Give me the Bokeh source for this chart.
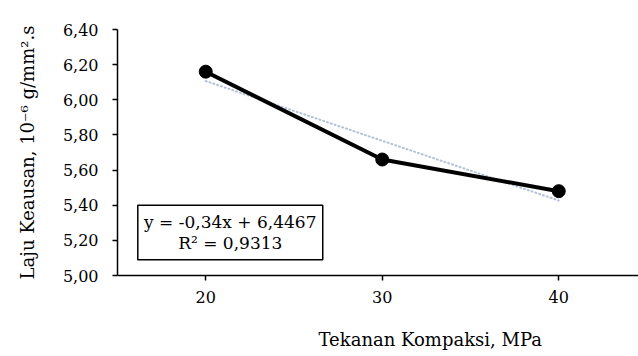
from bokeh.plotting import figure
from bokeh.models import FixedTicker, Label, BoxAnnotation, Range1d, Title
from bokeh.embed import file_html
from bokeh.resources import INLINE

# Compaction pressure categories and measured wear rate
pressure_labels = ["20", "30", "40"]
category_pos = [1, 2, 3]
wear_rate = [6.16, 5.66, 5.48]

# Linear trend fitted over the category index
trend_slope = -0.34
trend_intercept = 6.4467
trend_r2 = 0.9313

y_ticks = [5.0, 5.2, 5.4, 5.6, 5.8, 6.0, 6.2, 6.4]
y_tick_labels = ["5,00", "5,20", "5,40", "5,60", "5,80", "6,00", "6,20", "6,40"]

FONT = "DejaVu Serif"

p = figure(width=638, height=356, output_backend="svg", toolbar_location=None,
           x_range=Range1d(0.5, 3.452), y_range=Range1d(5.0, 6.4),
           min_border_left=117, min_border_right=0, min_border_top=29,
           min_border_bottom=81)
p.outline_line_color = None
p.grid.visible = False
p.background_fill_color = "white"
p.border_fill_color = "white"

trend_y = [trend_slope * x + trend_intercept for x in category_pos]
p.line(category_pos, trend_y, line_color="#b4bfd8", line_width=2,
       line_dash="1 3", line_cap="round")
p.line(category_pos, wear_rate, line_color="black", line_width=4)
p.scatter(category_pos, wear_rate, size=13, fill_color="black", line_color="black")

# y axis
p.yaxis.ticker = FixedTicker(ticks=y_ticks)
p.yaxis.major_label_overrides = {t: s for t, s in zip(y_ticks, y_tick_labels)}
p.yaxis.axis_label = "Laju Keausan, 10\u207b\u2076 g/mm\u00b2.s"
# x axis
p.xaxis.ticker = FixedTicker(ticks=category_pos)
p.xaxis.major_label_overrides = {c: s for c, s in zip(category_pos, pressure_labels)}

for ax in (p.xaxis, p.yaxis):
    ax.axis_line_color = "black"
    ax.axis_line_width = 1.5
    ax.major_tick_line_color = "black"
    ax.major_tick_line_width = 1.5
    ax.major_tick_out = 5
    ax.major_tick_in = 0
    ax.minor_tick_line_color = None
    ax.major_label_text_font = FONT
    ax.major_label_text_font_size = "16px"
    ax.major_label_text_color = "black"
    ax.axis_label_text_font = FONT
    ax.axis_label_text_font_size = "18px"
    ax.axis_label_text_font_style = "normal"
    ax.axis_label_text_color = "black"

p.yaxis.major_label_standoff = 14
p.yaxis.axis_label_standoff = 22
p.xaxis.major_label_standoff = 10
# blank spacer label under the x ticks so the title below sits lower
p.xaxis.axis_label = " "
p.xaxis.axis_label_text_font_size = "2px"
p.xaxis.axis_label_standoff = 10

# x axis title, set off to the right of the frame centre
p.add_layout(Title(text="Tekanan Kompaksi, MPa", align="left", offset=201,
                   vertical_align="bottom", standoff=12, text_font=FONT,
                   text_font_size="18px", text_font_style="normal",
                   text_color="black"), "below")

# regression equation box
p.add_layout(BoxAnnotation(left=0.615, right=1.663, bottom=5.09, top=5.40,
                           fill_color="white", fill_alpha=1.0,
                           line_color="black", line_alpha=1.0, line_width=1.5))
eq_text = f"y = {trend_slope:.2f}x + {trend_intercept:.4f}".replace(".", ",")
r2_text = f"R\u00b2 = {trend_r2:.4f}".replace(".", ",")
p.add_layout(Label(x=1.139, y=5.305, text=eq_text, text_font=FONT,
                   text_font_size="17px", text_align="center", text_baseline="middle",
                   text_color="black"))
p.add_layout(Label(x=1.139, y=5.186, text=r2_text, text_font=FONT,
                   text_font_size="17px", text_align="center", text_baseline="middle",
                   text_color="black"))

open("out.html", "w").write(file_html(p, INLINE))
